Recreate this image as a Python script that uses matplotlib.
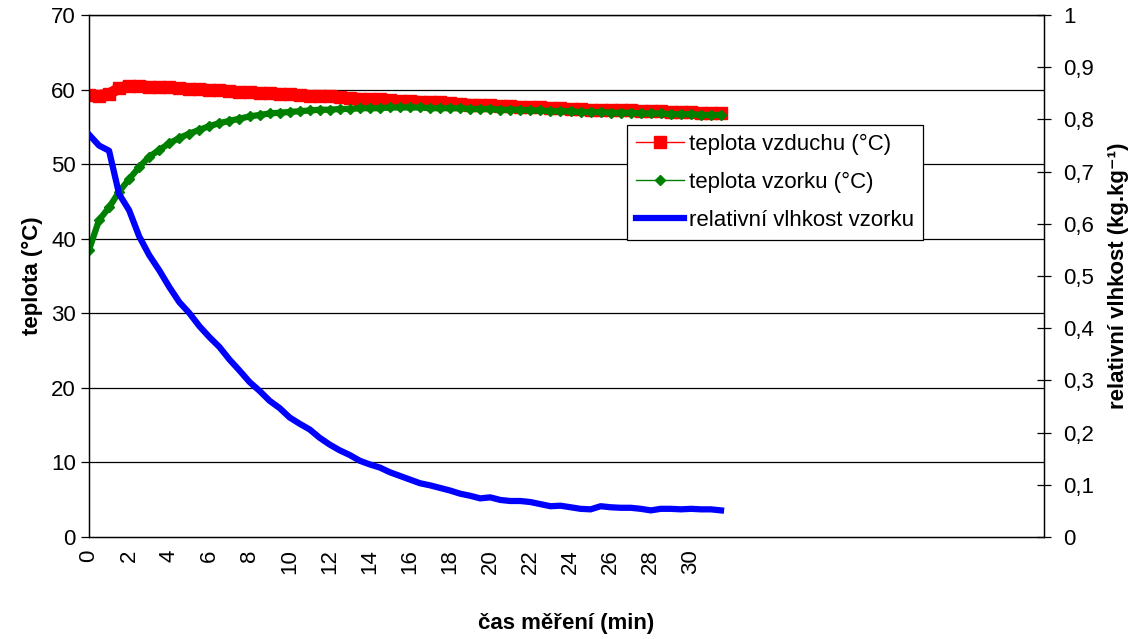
import numpy as np
import matplotlib.pyplot as plt
from matplotlib.lines import Line2D

plt.rcParams['font.family'] = ['Liberation Sans', 'DejaVu Sans']

# odečty po 0,5 min
teplota_vzduchu = [59.3, 59.2, 59.4, 60.2, 60.5, 60.5, 60.4, 60.3, 60.3, 60.2,
                   60.1, 60.1, 60.0, 59.9, 59.8, 59.7, 59.7, 59.6, 59.5, 59.4,
                   59.4, 59.3, 59.2, 59.1, 59.1, 59.0, 58.9, 58.8, 58.8, 58.7,
                   58.6, 58.5, 58.5, 58.4, 58.3, 58.3, 58.2, 58.1, 58.0, 58.0,
                   57.9, 57.8, 57.8, 57.7, 57.6, 57.6, 57.5, 57.5, 57.4, 57.4,
                   57.3, 57.3, 57.2, 57.2, 57.2, 57.1, 57.1, 57.1, 57.0, 57.0,
                   57.0, 56.9, 56.9, 56.9]
teplota_vzorku = [38.5, 42.5, 44.2, 46.3, 48.0, 49.6, 51.0, 51.9, 52.8, 53.5,
                  54.1, 54.6, 55.1, 55.5, 55.8, 56.1, 56.4, 56.6, 56.8, 56.9,
                  57.0, 57.1, 57.2, 57.3, 57.3, 57.4, 57.4, 57.5, 57.5, 57.5,
                  57.6, 57.6, 57.6, 57.6, 57.5, 57.5, 57.5, 57.5, 57.4, 57.4,
                  57.4, 57.3, 57.3, 57.3, 57.2, 57.2, 57.1, 57.1, 57.1, 57.0,
                  57.0, 57.0, 56.9, 56.9, 56.9, 56.8, 56.8, 56.8, 56.7, 56.7,
                  56.7, 56.6, 56.6, 56.6]
vlhkost = [0.771, 0.750, 0.740, 0.657, 0.626, 0.576, 0.540, 0.511, 0.479, 0.450,
           0.429, 0.404, 0.383, 0.364, 0.340, 0.319, 0.297, 0.280, 0.261, 0.247,
           0.229, 0.217, 0.206, 0.190, 0.177, 0.166, 0.157, 0.146, 0.139, 0.133,
           0.124, 0.117, 0.110, 0.103, 0.099, 0.094, 0.089, 0.083, 0.079, 0.074,
           0.076, 0.071, 0.069, 0.069, 0.067, 0.063, 0.059, 0.060, 0.057, 0.054,
           0.053, 0.059, 0.057, 0.056, 0.056, 0.054, 0.051, 0.054, 0.054, 0.053,
           0.054, 0.053, 0.053, 0.051]
cas = np.arange(len(vlhkost)) * 0.5

x_ticks = list(range(0, 31, 2))
y_left_ticks = list(range(0, 71, 10))
y_right_ticks = [i / 10 for i in range(11)]
y_right_labels = ['0'] + [f'0,{i}' for i in range(1, 10)] + ['1']

fs = 16

fig = plt.figure(figsize=(11.44, 6.39), dpi=100)
ax = fig.add_axes([0.0778, 0.1596, 0.8348, 0.8169])
ax2 = ax.twinx()

ax.set_xlim(0, 47.6)
ax.set_ylim(0, 70)
ax2.set_ylim(0, 1)

for y in y_left_ticks[1:]:
    ax.axhline(y, color='black', lw=0.9, zorder=0)

# naměřené průběhy
ax.plot(cas, teplota_vzduchu, color='#ff0000', lw=8, solid_capstyle='butt', zorder=2)
ax.plot(cas, teplota_vzduchu, color='#ff0000', lw=1, marker='s', ms=9, zorder=2)
ax.plot(cas, teplota_vzorku, color='#008000', lw=4.5, zorder=3)
ax.plot(cas, teplota_vzorku, color='#008000', lw=1, marker='D', ms=5.5, zorder=3)
ax2.plot(cas, vlhkost, color='#0000ff', lw=4.5, zorder=3)

ax.set_xticks(x_ticks)
ax.set_xticklabels([str(x) for x in x_ticks], rotation=90, fontsize=fs)
ax.tick_params(axis='x', length=0, pad=9)
ax.set_yticks(y_left_ticks)
ax.tick_params(axis='y', labelsize=fs, length=6, width=0.9, direction='out')
ax2.set_yticks(y_right_ticks)
ax2.set_yticklabels(y_right_labels)
ax2.tick_params(axis='y', labelsize=fs, length=10, width=0.9, direction='inout', pad=9)

for a in (ax, ax2):
    for s in a.spines.values():
        s.set_linewidth(0.9)
        s.set_color('black')

ax.set_xlabel('čas měření (min)', fontsize=fs, fontweight='bold', labelpad=28)
ax.set_ylabel('teplota (°C)', fontsize=fs, fontweight='bold', labelpad=6)
ax2.set_ylabel('relativní vlhkost (kg.kg⁻¹)', fontsize=fs,
               fontweight='bold', labelpad=10)

handles = [
    Line2D([], [], color='#ff0000', lw=1, marker='s', ms=9),
    Line2D([], [], color='#008000', lw=1, marker='D', ms=5.5),
    Line2D([], [], color='#0000ff', lw=4.5),
]
labels = ['teplota vzduchu (°C)', 'teplota vzorku (°C)', 'relativní vlhkost vzorku']
leg = ax2.legend(handles, labels, loc='upper left', bbox_to_anchor=(0.563, 0.789),
                 fontsize=fs, frameon=True, fancybox=False, edgecolor='black',
                 framealpha=1, borderpad=0.4, handlelength=2.2, handletextpad=0.2,
                 labelspacing=0.75, borderaxespad=0)
leg.get_frame().set_linewidth(0.9)

plt.savefig('out.png', dpi=100)
